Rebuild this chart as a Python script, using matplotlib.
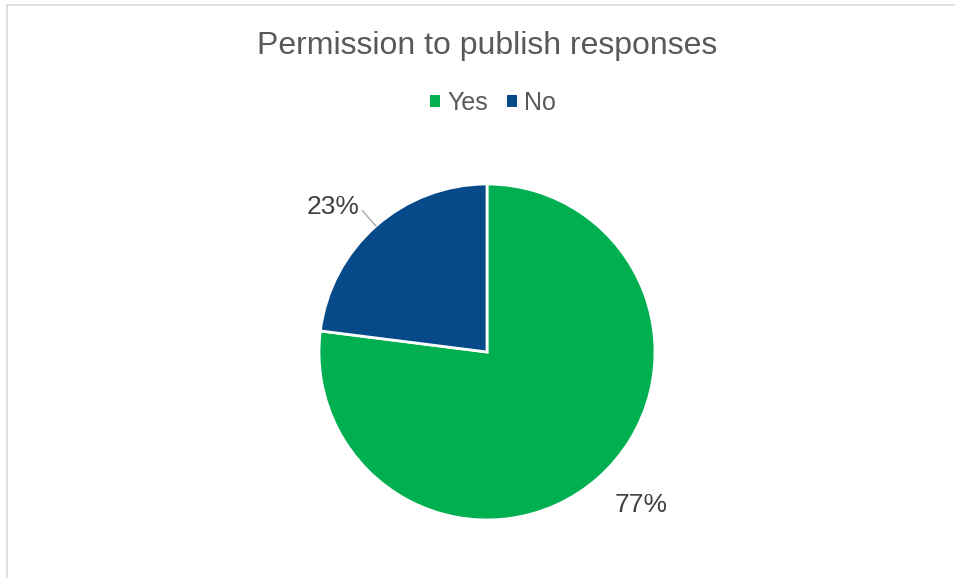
import numpy as np
import matplotlib.pyplot as plt
from matplotlib.patches import Rectangle

plt.rcParams['font.family'] = ['Liberation Sans', 'DejaVu Sans']

labels = ['Yes', 'No']
shares = [77, 23]
colors = ['#00B050', '#064A89']

fig = plt.figure(figsize=(9.55, 5.78), dpi=100)
W, H = 955, 578

# light chart frame (runs off the right and bottom edges)
fig.patches.append(Rectangle((7 / W, -0.1), 1.2, 1 - 5 / H + 0.1, transform=fig.transFigure,
                             fill=False, edgecolor='#D9D9D9', linewidth=1.2))

# pie axes positioned in pixels: center (487, 352), radius 168
cx, cy, r = 487, 352, 168
ax = fig.add_axes([(cx - r) / W, 1 - (cy + r) / H, 2 * r / W, 2 * r / H])
wedges, _ = ax.pie(shares, colors=colors, startangle=90, counterclock=False, radius=1,
                   wedgeprops=dict(edgecolor='white', linewidth=2))
ax.set_xlim(-1, 1)
ax.set_ylim(-1, 1)
ax.set_aspect('equal')
ax.axis('off')

for w, v in zip(wedges, shares):
    mid = np.deg2rad((w.theta1 + w.theta2) / 2)
    dx, dy = np.cos(mid), np.sin(mid)
    ax.text(1.39 * dx, 1.18 * dy - 0.024, f'{v}%', ha='center', va='center',
            fontsize=19, color='#404040', clip_on=False)
    if v == 23:
        ax.plot([1.0 * dx, 1.12 * dx], [1.0 * dy, 1.12 * dy], color='#A6A6A6',
                linewidth=1, clip_on=False)

fig.text(487 / W, 1 - 46 / H, 'Permission to publish responses', ha='center', va='center',
         fontsize=23, color='#595959')

handles = [Rectangle((0, 0), 1, 1, facecolor=c) for c in colors]
fig.legend(handles, labels, loc='center', bbox_to_anchor=(493 / W, 1 - 103 / H), ncol=2,
           frameon=False, fontsize=18, labelcolor='#595959', handlelength=0.4,
           handleheight=0.4, handletextpad=0.3, columnspacing=0.75)

fig.savefig('out.png', dpi=100)
